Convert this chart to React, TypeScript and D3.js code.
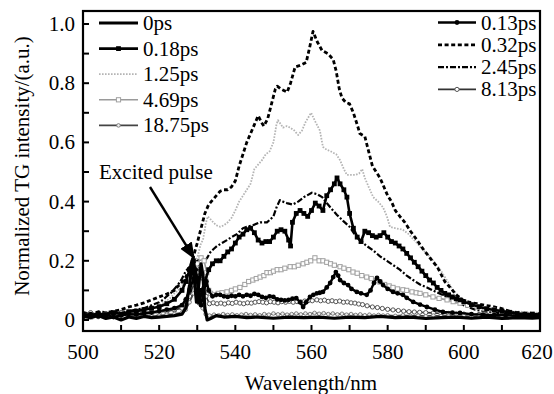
import React from "react";
import * as d3 from "d3";

type Pt = [number, number];

// Transient grating spectra (wavelength nm, normalized intensity)
const s0ps: Pt[] = [[500,0.012],[502,0.008],[504,0.015],[506,0.005],[508,0.01],[510,0.0],[512,0.01],[514,0.005],[516,0.012],[518,0.008],[520,0.01],[522,0.012],[524,0.015],[526,0.02],[527,0.04],[528,0.12],[528.6,0.2],[529.2,0.14],[529.8,0.06],[530.4,0.12],[531,0.19],[531.5,0.15],[532,0.04],[532.6,0.0],[533.5,0.005],[535,0.015],[537,0.01],[540,0.012],[543,0.008],[546,0.01],[550,0.006],[554,0.01],[558,0.008],[562,0.01],[566,0.006],[570,0.01],[574,0.008],[578,0.012],[582,0.008],[586,0.01],[590,0.005],[594,0.008],[598,0.01],[602,0.006],[606,0.01],[610,0.005],[614,0.008],[618,0.006],[620,0.008]];

const s018ps: Pt[] = [[500,0.02],[502,0.015],[504,0.022],[506,0.018],[508,0.025],[510,0.02],[512,0.028],[514,0.03],[516,0.035],[518,0.04],[520,0.045],[522,0.055],[524,0.07],[526,0.1],[527,0.13],[528,0.17],[529,0.2],[530,0.14],[530.6,0.06],[531.2,0.1],[532,0.13],[533,0.17],[534,0.19],[535,0.2],[536,0.2],[537,0.215],[538,0.23],[539,0.24],[540,0.26],[541,0.28],[542,0.29],[543,0.305],[544,0.31],[545,0.295],[546,0.27],[547,0.26],[548,0.265],[549,0.265],[550,0.28],[551,0.3],[552,0.305],[553,0.3],[554,0.27],[554.5,0.25],[555,0.33],[556,0.36],[557,0.37],[558,0.36],[559,0.35],[560,0.37],[561,0.395],[562,0.385],[563,0.37],[564,0.42],[565,0.44],[566,0.46],[566.7,0.48],[567.5,0.46],[568.5,0.44],[569.3,0.415],[570,0.36],[571,0.31],[572,0.28],[573,0.265],[574,0.3],[575,0.295],[576,0.285],[577,0.28],[578,0.285],[579,0.295],[580,0.28],[581,0.265],[582,0.26],[583,0.25],[584,0.24],[585,0.225],[586,0.21],[587,0.195],[588,0.18],[589,0.165],[590,0.15],[591,0.135],[592,0.125],[593,0.11],[594,0.1],[595,0.09],[596,0.085],[597,0.078],[598,0.072],[599,0.068],[600,0.062],[602,0.052],[604,0.045],[606,0.038],[608,0.034],[610,0.03],[612,0.026],[614,0.022],[616,0.02],[618,0.02],[620,0.018]];

const s013ps: Pt[] = [[500,0.01],[502,0.02],[504,0.012],[506,0.018],[508,0.01],[510,0.015],[512,0.02],[514,0.018],[516,0.022],[518,0.025],[520,0.03],[522,0.035],[524,0.04],[526,0.05],[527,0.07],[528,0.1],[529,0.14],[529.6,0.17],[530.2,0.1],[531,0.05],[531.6,0.09],[532.4,0.13],[533,0.1],[534,0.08],[535,0.085],[536,0.085],[537,0.08],[538,0.078],[539,0.082],[540,0.08],[541,0.085],[542,0.08],[543,0.085],[544,0.082],[545,0.088],[546,0.085],[547,0.078],[548,0.075],[549,0.08],[550,0.078],[551,0.07],[552,0.068],[553,0.066],[554,0.068],[555,0.072],[556,0.074],[557,0.06],[557.8,0.044],[558.6,0.06],[559.6,0.078],[560.5,0.085],[561.4,0.09],[562.2,0.092],[563,0.095],[564,0.11],[564.9,0.125],[565.7,0.145],[566.4,0.162],[567,0.15],[567.5,0.135],[568.5,0.125],[569.6,0.118],[570.5,0.105],[571.9,0.095],[573,0.09],[574.5,0.085],[575.5,0.1],[576.4,0.125],[577.2,0.142],[578,0.13],[578.8,0.118],[580,0.105],[581.4,0.095],[582.6,0.09],[584,0.085],[585,0.075],[586.7,0.061],[588.5,0.052],[590.3,0.044],[592.4,0.035],[594.5,0.027],[597,0.025],[599,0.024],[602,0.02],[605,0.018],[608,0.016],[611,0.017],[614,0.014],[617,0.015],[620,0.012]];

const s032ps: Pt[] = [[500,0.025],[502,0.02],[504,0.028],[506,0.025],[508,0.03],[510,0.035],[512,0.044],[514,0.05],[516,0.058],[518,0.068],[520,0.078],[522,0.088],[524,0.1],[525,0.115],[526,0.128],[527,0.145],[528,0.175],[529,0.215],[530,0.26],[531,0.31],[532,0.36],[533,0.39],[534,0.405],[535,0.42],[536,0.435],[537,0.44],[538,0.44],[539,0.45],[540,0.47],[541,0.52],[542,0.56],[543,0.6],[544,0.63],[545,0.66],[546,0.69],[547,0.665],[547.5,0.655],[548.5,0.68],[549.5,0.73],[550.5,0.78],[551,0.79],[552,0.78],[553.6,0.77],[554.5,0.8],[555.7,0.855],[557,0.86],[558.6,0.87],[559.5,0.92],[560.4,0.975],[561.5,0.94],[562.8,0.91],[564.3,0.9],[565.7,0.88],[566.5,0.84],[567.3,0.78],[568,0.75],[569,0.735],[570,0.73],[571,0.7],[572,0.66],[572.7,0.63],[574,0.62],[575,0.57],[576,0.52],[577,0.5],[578,0.48],[579,0.45],[580,0.42],[581,0.4],[582,0.37],[583.2,0.35],[584.5,0.33],[586,0.3],[587.7,0.27],[589,0.245],[590.5,0.22],[592,0.195],[593,0.18],[594,0.155],[595,0.13],[596.4,0.11],[598,0.085],[599.8,0.067],[601.5,0.06],[603.5,0.055],[605.5,0.05],[607.7,0.045],[609.5,0.04],[611.5,0.032],[613,0.025],[614.8,0.02],[617,0.02],[620,0.018]];

const s125ps: Pt[] = [[500,0.015],[504,0.018],[508,0.02],[512,0.022],[514,0.025],[516,0.03],[518,0.038],[520,0.05],[521,0.057],[522,0.065],[523,0.075],[524,0.09],[525,0.1],[526,0.115],[527,0.14],[528,0.165],[529,0.19],[530,0.21],[531,0.26],[531.5,0.27],[532.3,0.33],[532.8,0.35],[533.5,0.34],[534.2,0.33],[535,0.32],[536,0.315],[537,0.32],[538,0.33],[539,0.345],[540,0.37],[541,0.4],[542,0.42],[543,0.44],[544,0.46],[545,0.51],[546,0.525],[547,0.54],[548,0.56],[549,0.57],[550,0.6],[550.8,0.66],[551.2,0.675],[552,0.66],[552.5,0.65],[553.5,0.655],[554.4,0.65],[555.5,0.64],[556.5,0.625],[557.5,0.64],[558.5,0.67],[559.9,0.7],[561,0.67],[562.2,0.64],[563,0.585],[564,0.575],[565,0.57],[565.7,0.565],[566.5,0.56],[567.5,0.54],[568.5,0.51],[569.3,0.49],[570.5,0.49],[571.5,0.49],[572.5,0.495],[573.3,0.51],[574,0.48],[575,0.45],[576.2,0.415],[577.5,0.4],[578.8,0.38],[579.8,0.35],[580.6,0.315],[582,0.31],[584,0.305],[585.5,0.29],[587.7,0.26],[589,0.24],[590.3,0.225],[592,0.2],[593.8,0.17],[595.5,0.135],[597.2,0.1],[599,0.075],[600.8,0.057],[603,0.045],[606,0.04],[609,0.035],[612,0.03],[615,0.028],[618,0.025],[620,0.025]];

const s245ps: Pt[] = [[500,0.02],[504,0.022],[508,0.025],[512,0.03],[514,0.035],[516,0.04],[518,0.05],[520,0.06],[521,0.068],[522,0.08],[523,0.09],[524,0.105],[525,0.12],[526,0.14],[527,0.165],[528,0.18],[529,0.19],[530,0.2],[531,0.205],[532,0.2],[532.6,0.21],[533.5,0.23],[534.3,0.24],[535.2,0.25],[536.5,0.26],[537.8,0.27],[539,0.28],[540.4,0.29],[541.2,0.3],[542,0.31],[543,0.315],[544.6,0.32],[546.5,0.33],[548.3,0.33],[549.2,0.34],[550,0.35],[550.8,0.38],[551.7,0.405],[552.5,0.4],[553.5,0.395],[555.1,0.39],[556.5,0.4],[558,0.415],[560.1,0.43],[561.5,0.425],[562.8,0.415],[564,0.395],[565.3,0.375],[566.7,0.355],[568.3,0.335],[570,0.315],[571.3,0.29],[572.7,0.27],[574.5,0.25],[576.2,0.235],[578,0.215],[579.8,0.2],[581.5,0.185],[583.2,0.17],[585,0.15],[586.7,0.135],[588.5,0.12],[590.3,0.11],[593,0.093],[595.6,0.078],[598,0.06],[600.8,0.045],[603,0.035],[606,0.028],[610,0.022],[614,0.02],[620,0.018]];

const s469ps: Pt[] = [[500,0.015],[502,0.01],[504,0.018],[506,0.012],[508,0.015],[510,0.02],[512,0.015],[514,0.018],[516,0.02],[518,0.022],[520,0.025],[522,0.03],[524,0.035],[526,0.045],[527,0.06],[528,0.1],[529,0.15],[530,0.19],[531,0.21],[531.8,0.2],[532.5,0.16],[533,0.1],[533.5,0.09],[534.5,0.085],[535.5,0.09],[536.5,0.092],[537.8,0.095],[539,0.1],[540,0.105],[541.2,0.11],[542.5,0.12],[543.5,0.13],[544.6,0.135],[545.5,0.14],[546.5,0.145],[547.5,0.15],[548.3,0.16],[549.2,0.16],[550,0.165],[551,0.17],[552,0.17],[553,0.175],[554.4,0.18],[555.5,0.18],[556.5,0.185],[557.8,0.19],[558.8,0.195],[559.8,0.2],[560.9,0.21],[562,0.2],[563,0.2],[564,0.195],[565,0.19],[566,0.185],[567.5,0.18],[568.5,0.175],[569.8,0.17],[570.9,0.162],[572,0.158],[573.2,0.15],[574.5,0.145],[575.7,0.14],[577,0.133],[578,0.128],[579.2,0.12],[580.4,0.115],[581.4,0.11],[582.6,0.105],[584,0.102],[585,0.1],[586.4,0.095],[587.5,0.092],[588.5,0.09],[590,0.085],[591.9,0.078],[593.5,0.073],[595.6,0.068],[597.2,0.062],[599,0.057],[601,0.05],[603.5,0.044],[605.5,0.038],[607.7,0.034],[610,0.028],[612,0.024],[614,0.02],[616.6,0.017],[618.5,0.016],[620,0.015]];

const s813ps: Pt[] = [[500,0.02],[502,0.025],[504,0.018],[506,0.022],[508,0.02],[510,0.025],[512,0.022],[514,0.02],[516,0.025],[518,0.028],[520,0.03],[522,0.03],[524,0.035],[526,0.04],[527,0.05],[528,0.08],[529,0.12],[530,0.16],[530.8,0.18],[531.5,0.14],[532.3,0.08],[533.2,0.055],[534.2,0.058],[535.2,0.055],[536.2,0.057],[537.2,0.054],[538.2,0.058],[539.2,0.056],[540.2,0.06],[541.2,0.057],[542.2,0.055],[543.2,0.058],[544.2,0.057],[545.2,0.06],[546.2,0.062],[547.2,0.06],[548.2,0.058],[549.2,0.062],[550.2,0.06],[551.2,0.058],[552.2,0.062],[553.2,0.06],[554.2,0.063],[555.2,0.06],[556.2,0.062],[557.2,0.061],[558.2,0.064],[559.2,0.066],[560.2,0.065],[561.4,0.068],[562.4,0.065],[563.4,0.067],[564.4,0.063],[565.4,0.065],[566.4,0.062],[567.4,0.064],[568.4,0.06],[569.4,0.061],[570.4,0.058],[571.4,0.057],[572.4,0.054],[573.4,0.052],[574.6,0.048],[576,0.044],[577.3,0.042],[578.6,0.039],[580,0.036],[581.4,0.034],[582.8,0.032],[584.2,0.03],[585.6,0.028],[587,0.027],[588.4,0.026],[590,0.025],[592,0.024],[594,0.022],[596,0.022],[598,0.02],[600,0.02],[602,0.018],[604,0.019],[606,0.017],[608,0.018],[610,0.016],[612,0.017],[614,0.015],[616,0.016],[618,0.015],[620,0.014]];

const s1875ps: Pt[] = [[500,0.012],[502,0.018],[504,0.01],[506,0.015],[508,0.012],[510,0.018],[512,0.014],[514,0.01],[516,0.016],[518,0.012],[520,0.015],[522,0.018],[524,0.02],[526,0.025],[527,0.035],[528,0.06],[529,0.09],[529.8,0.11],[530.6,0.08],[531.4,0.04],[532.2,0.02],[533.2,0.015],[534.4,0.018],[535.6,0.016],[536.8,0.02],[538,0.017],[539.2,0.019],[540.4,0.016],[541.6,0.018],[542.8,0.02],[544,0.017],[545.2,0.019],[546.4,0.016],[547.6,0.02],[548.8,0.018],[550,0.022],[551.2,0.019],[552.4,0.021],[553.6,0.018],[554.8,0.02],[556,0.022],[557.2,0.019],[558.4,0.022],[559.6,0.02],[560.8,0.024],[562,0.021],[563.2,0.023],[564.4,0.02],[565.6,0.022],[566.8,0.019],[568,0.021],[569.2,0.018],[570.4,0.02],[571.6,0.017],[572.8,0.019],[574,0.016],[575.2,0.018],[576.4,0.015],[577.6,0.017],[578.8,0.015],[580,0.016],[582,0.014],[584,0.016],[586,0.014],[588,0.015],[590,0.013],[592,0.015],[594,0.013],[596,0.014],[598,0.012],[600,0.014],[602,0.012],[604,0.013],[606,0.011],[608,0.013],[610,0.012],[612,0.013],[614,0.011],[616,0.012],[618,0.011],[620,0.012]];

const xTicks = [500, 520, 540, 560, 580, 600, 620];
const xMinorTicks = [510, 530, 550, 570, 590, 610];
const yTicks = [0, 0.2, 0.4, 0.6, 0.8, 1.0];
const yMinorTicks = [0.1, 0.3, 0.5, 0.7, 0.9];
const yTickLabels = ["0", "0.2", "0.4", "0.6", "0.8", "1.0"];

type Marker = "none" | "fsquare" | "fcircle" | "osquare" | "ocircle" | "osmall";
interface Series {
  label: string;
  data: Pt[];
  color: string;
  width: number;
  dash?: string;
  marker: Marker;
  mColor?: string;
}

const seriesList: Series[] = [
  { label: "1.25ps", data: s125ps, color: "#b4b4b4", width: 1.8, dash: "1.6,1.4", marker: "none" },
  { label: "0.32ps", data: s032ps, color: "#000", width: 2.8, dash: "4,2.6", marker: "none" },
  { label: "2.45ps", data: s245ps, color: "#000", width: 2.2, dash: "6,2,2,2", marker: "none" },
  { label: "4.69ps", data: s469ps, color: "#9a9a9a", width: 1.6, marker: "osquare", mColor: "#a0a0a0" },
  { label: "8.13ps", data: s813ps, color: "#333", width: 1.6, marker: "ocircle", mColor: "#555" },
  { label: "18.75ps", data: s1875ps, color: "#444", width: 1.6, marker: "osmall", mColor: "#777" },
  { label: "0.13ps", data: s013ps, color: "#000", width: 2.4, marker: "fcircle" },
  { label: "0.18ps", data: s018ps, color: "#000", width: 2.6, marker: "fsquare" },
  { label: "0ps", data: s0ps, color: "#000", width: 3.2, marker: "none" },
];

const leftLegend = ["0ps", "0.18ps", "1.25ps", "4.69ps", "18.75ps"];
const rightLegend = ["0.13ps", "0.32ps", "2.45ps", "8.13ps"];

const W = 554;
const H = 394;
const FONT = "Liberation Serif, Times New Roman, Times, DejaVu Serif, serif";
const textStyle: React.CSSProperties = { fontFamily: FONT, fontSize: "21px" };

const x = d3.scaleLinear().domain([500, 620]).range([83, 540]);
const y = d3.scaleLinear().domain([0, 1]).range([320, 24]);
const plotTop = 11;
const plotBottom = 331;

function MarkerGlyph({ s, cx, cy }: { s: Series; cx: number; cy: number }) {
  const mc = s.mColor || s.color;
  switch (s.marker) {
    case "fsquare":
      return <rect x={cx - 2.4} y={cy - 2.4} width={4.8} height={4.8} fill="#000" />;
    case "fcircle":
      return <circle cx={cx} cy={cy} r={2.4} fill="#000" />;
    case "osquare":
      return <rect x={cx - 2.1} y={cy - 2.1} width={4.2} height={4.2} fill="#fff" stroke={mc} strokeWidth={1} />;
    case "ocircle":
      return <circle cx={cx} cy={cy} r={2.1} fill="#fff" stroke={mc} strokeWidth={1} />;
    case "osmall":
      return <circle cx={cx} cy={cy} r={1.8} fill="#eee" stroke={mc} strokeWidth={0.9} />;
    default:
      return null;
  }
}

export default function App() {
  const line = d3
    .line<Pt>()
    .x((d) => x(d[0]))
    .y((d) => y(d[1]));

  const byLabel = (l: string) => seriesList.find((s) => s.label === l)!;

  const legendItem = (s: Series, x0: number, x1: number, ty: number, key: string) => (
    <g key={key}>
      <line x1={x0} x2={x1} y1={ty} y2={ty} stroke={s.color} strokeWidth={s.width} strokeDasharray={s.dash} />
      {s.marker !== "none" && <MarkerGlyph s={s} cx={(x0 + x1) / 2} cy={ty} />}
      <text x={x1 + 5} y={ty + 7} style={textStyle} fill="#000">
        {s.label}
      </text>
    </g>
  );

  return (
    <svg width={W} height={H} style={{ position: "absolute", left: 0, top: 0, background: "#fff", fontFamily: FONT }}>
      <rect x={0} y={0} width={W} height={H} fill="#fff" />
      <defs>
        <clipPath id="plotClip">
          <rect x={x(500)} y={plotTop} width={x(620) - x(500)} height={plotBottom - plotTop} />
        </clipPath>
        <marker id="arrowHead" viewBox="0 0 10 10" refX="9" refY="5" markerWidth="7" markerHeight="7" orient="auto">
          <path d="M0,1 L10,5 L0,9 z" fill="#000" />
        </marker>
      </defs>

      {/* spectra */}
      <g clipPath="url(#plotClip)">
        {seriesList.map((s) => (
          <g key={s.label}>
            <path d={line(s.data) || ""} fill="none" stroke={s.color} strokeWidth={s.width} strokeDasharray={s.dash} strokeLinejoin="round" />
            {s.marker !== "none" &&
              s.data.map((d, i) => <MarkerGlyph key={i} s={s} cx={x(d[0])} cy={y(d[1])} />)}
          </g>
        ))}
      </g>

      {/* frame */}
      <rect x={x(500)} y={plotTop} width={x(620) - x(500)} height={plotBottom - plotTop} fill="none" stroke="#000" strokeWidth={2.2} />

      {/* x ticks */}
      {xTicks.concat(xMinorTicks).map((t) => (
        <line key={"xt" + t} x1={x(t)} x2={x(t)} y1={plotBottom} y2={plotBottom - 6} stroke="#000" strokeWidth={2} />
      ))}
      {xTicks.map((t) => (
        <text key={"xl" + t} x={Math.min(x(t), 537)} y={359} textAnchor="middle" style={textStyle}>
          {t}
        </text>
      ))}

      {/* y ticks */}
      {yTicks.concat(yMinorTicks).map((t) => (
        <line key={"yt" + t} x1={x(500)} x2={x(500) + 6} y1={y(t)} y2={y(t)} stroke="#000" strokeWidth={2} />
      ))}
      {yTicks.map((t, i) => (
        <text key={"yl" + t} x={75} y={y(t) + 7} textAnchor="end" style={textStyle}>
          {yTickLabels[i]}
        </text>
      ))}

      {/* axis titles */}
      <text x={311} y={390} textAnchor="middle" style={textStyle}>
        Wavelength/nm
      </text>
      <text transform="translate(29,166) rotate(-90)" textAnchor="middle" style={textStyle}>
        Normalized TG intensity/(a.u.)
      </text>

      {/* legends */}
      {leftLegend.map((l, i) => legendItem(byLabel(l), 99, 138, 23 + i * 25.6, "L" + l))}
      {rightLegend.map((l, i) => legendItem(byLabel(l), 438, 476, 22.5 + i * 22.3, "R" + l))}

      {/* annotation */}
      <text x={99} y={179} style={textStyle}>
        Excited pulse
      </text>
      <line x1={150} y1={187} x2={194} y2={258} stroke="#000" strokeWidth={2.4} markerEnd="url(#arrowHead)" />
    </svg>
  );
}
